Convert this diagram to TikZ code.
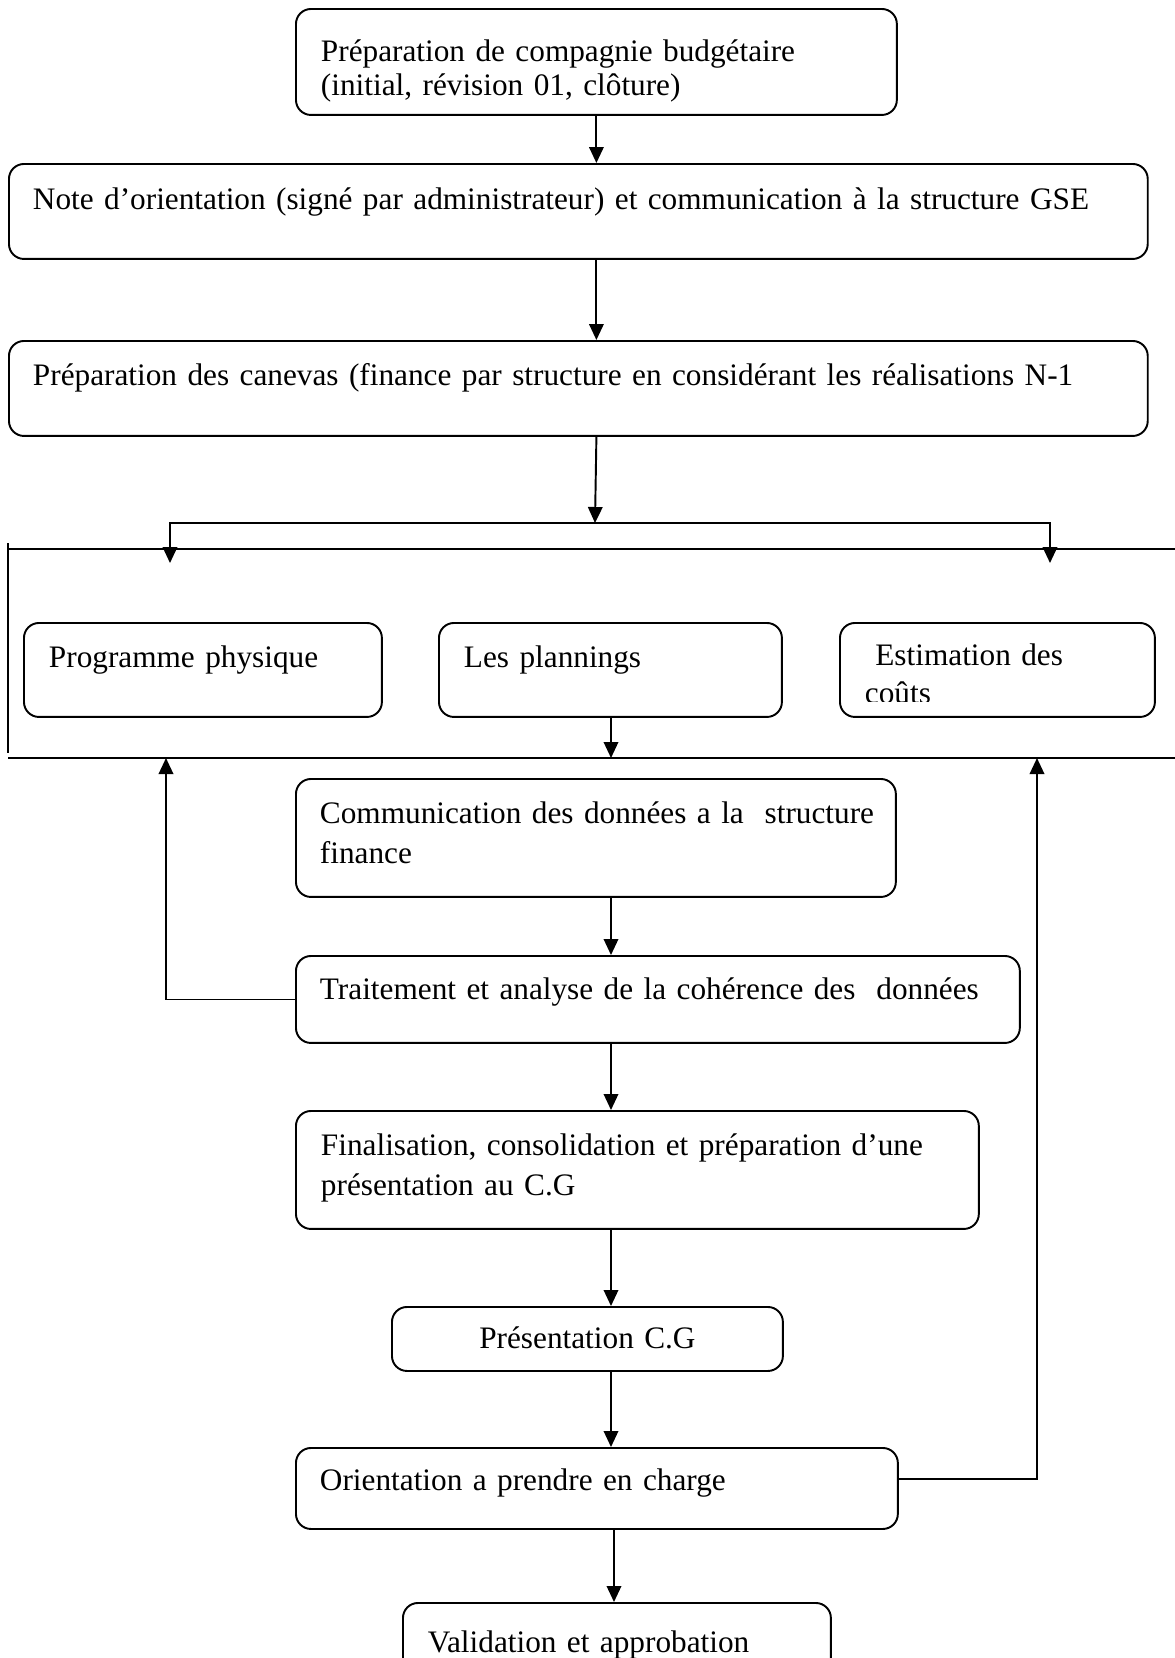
\documentclass[tikz,border=0pt]{standalone}
\usepackage{fontspec}
\setmainfont{Liberation Serif}
\usetikzlibrary{arrows.meta,positioning}
\tikzset{
    %Define standard arrow tip
    >={Triangle[length=0.32cm,width=0.29cm]},
    %Define style for boxes
    boite/.style={
           draw,
           line width=1.1pt,
           rounded corners=0.3cm,
           anchor=north west,
           inner xsep=0.5cm,
           inner ysep=0pt,
           align=left,
           font=\fontsize{17.8}{19.3}\selectfont,},
    %Define style for arrows
    fleche/.style={
           ->,
           line width=1.1pt,},
    ligne/.style={line width=1.1pt}
}

\begin{document}
\hyphenpenalty=10000
\exhyphenpenalty=10000
\begin{tikzpicture}[x=0.02cm, y=-0.02cm]
 \useasboundingbox (0,0) rectangle (1175,1658);
 %nodes
 \node[boite, text width=11.02cm, text height=1.06cm, text depth=1.06cm] (prep) at (295,8) {Préparation de compagnie budgétaire\\(initial, révision 01, clôture)};
 \node[boite, inner xsep=0.48cm, text width=21.82cm, text height=0.92cm, text depth=0.98cm] (note) at (8,163) {Note d’orientation (signé par administrateur) et communication à la structure GSE};
 \node[boite, inner xsep=0.48cm, text width=21.82cm, text height=0.9cm, text depth=1.0cm] (canevas) at (8,340) {Préparation des canevas (finance par structure en considérant les réalisations N-1};

 \node[boite, text width=6.16cm, text height=0.9cm, text depth=0.98cm] (physique) at (23,622) {Programme physique};
 \node[boite, text width=5.86cm, text height=0.9cm, text depth=0.98cm] (plannings) at (438,622) {Les plannings};
 \node[boite, minimum width=6.3cm, minimum height=1.88cm] (couts) at (839,622) {};
 \begin{scope}
  \clip (couts.north west) rectangle (1154,701);
  \node[boite, draw=none, text width=5.3cm, text height=0.86cm, text depth=0pt] at (couts.north west) {~Estimation des\\[2.2pt]coûts};
 \end{scope}

 \node[boite, inner xsep=0.48cm, text width=11.04cm, text height=0.9cm, text depth=1.46cm] (comm) at (295,778) {\mbox{Communication des données a la \ structure}\\[3.4pt]finance};
 \node[boite, inner xsep=0.48cm, text width=13.52cm, text height=0.88cm, text depth=0.86cm] (traitement) at (295,955) {Traitement et analyse de la cohérence des \ données};
 \node[boite, text width=12.66cm, text height=0.9cm, text depth=1.46cm] (final) at (295,1110) {Finalisation, consolidation et préparation d’une\\[3.4pt]présentation au C.G};
 \node[boite, align=center, text width=6.82cm, text height=0.84cm, text depth=0.44cm] (pres) at (391,1306) {Présentation C.G};
 \node[boite, inner xsep=0.48cm, text width=11.08cm, text height=0.86cm, text depth=0.76cm] (orient) at (295,1447) {Orientation a prendre en charge};
 \node[boite, text width=7.56cm, text height=1.0cm, text depth=1.2cm] (valid) at (402,1602) {Validation et approbation};

 %frame round the three boxes
 \draw[ligne] (8,543) -- (8,753);
 \draw[ligne] (8,549) -- (1175,549);
 \draw[ligne] (8,758) -- (1175,758);

 %coordinates
 \coordinate (split) at (595,523);
 \coordinate (brG) at (170,563);
 \coordinate (brD) at (1050,563);
 \coordinate (bas) at (611,758);
 \coordinate (retG) at (166,758);
 \coordinate (retD) at (1037,758);

 %arrows
 \draw[fleche] (prep.south) -- (prep.south |- note.north);
 \draw[fleche] (prep.south |- note.south) -- (prep.south |- canevas.north);
 \draw[fleche] (prep.south |- canevas.south) -- (split);
 \draw[fleche, <->] (brG) |- (split) -| (brD);
 \draw[fleche] (plannings.south -| bas) -- (bas);
 \draw[fleche] (comm.south -| bas) -- (traitement.north -| bas);
 \draw[fleche] (traitement.south -| bas) -- (final.north -| bas);
 \draw[fleche] (final.south -| bas) -- (pres.north -| bas);
 \draw[fleche] (pres.south -| bas) -- (orient.north -| bas);
 \draw[fleche] ([xshift=0.06cm]orient.south -| bas) -- ([xshift=0.06cm]valid.north -| bas);

 %feedback
 \draw[fleche] (traitement.west) -| (retG);
 \draw[fleche] ([yshift=0.19cm]orient.east) -| (retD);

\end{tikzpicture}
\end{document}
